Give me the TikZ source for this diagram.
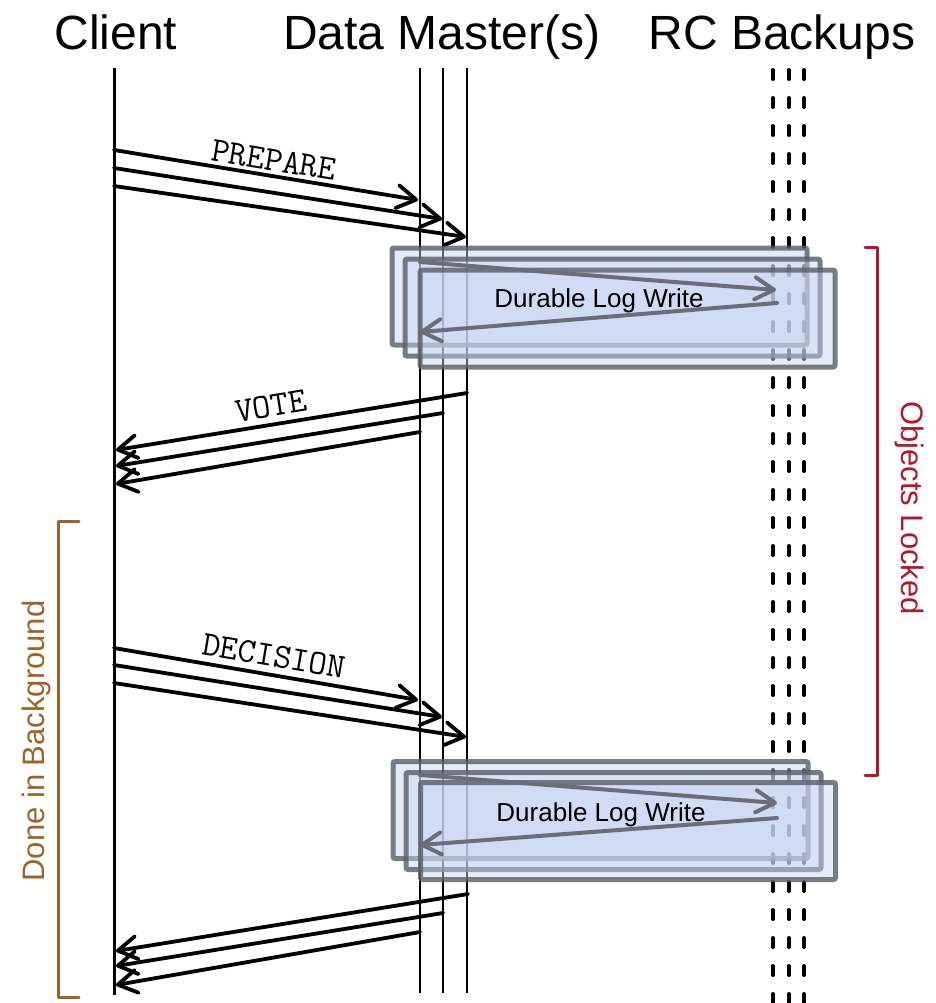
\documentclass[tikz,border=0pt]{standalone}
\usepackage{fontspec}
\setmainfont{Liberation Sans}
\usetikzlibrary{arrows.meta}

\definecolor{logfill}{RGB}{198,213,241}
\definecolor{logedge}{RGB}{88,93,103}
\definecolor{logarrow}{RGB}{105,110,120}
\definecolor{lockred}{RGB}{178,22,42}
\definecolor{bgbrown}{RGB}{155,100,40}

\begin{document}
\begin{tikzpicture}[x=1pt,y=-1pt,
  header/.style={font=\fontsize{48}{50}\selectfont, anchor=base, inner sep=0pt},
  clientline/.style={line width=3pt},
  masterline/.style={line width=2pt},
  backupline/.style={line width=4pt, line cap=round, dash pattern=on 9pt off 19pt},
  msg/.style={line width=3.8pt, line cap=round,
    -{Straight Barb[length=19pt,width=23pt,round]}},
  msglabel/.style={font=\ttfamily\fontsize{35}{37}\selectfont, inner sep=0pt},
  logbox/.style={draw=logedge, draw opacity=0.8, line width=5pt, fill=logfill,
    fill opacity=0.45, rounded corners=2pt, minimum width=415pt,
    minimum height=97pt, inner sep=0pt},
  logmsg/.style={draw=logarrow, line width=4pt, line cap=round,
    -{Straight Barb[length=19pt,width=22pt,round]}},
  logtext/.style={font=\fontsize{26}{28}\selectfont, anchor=base, inner sep=0pt},
  bracket/.style={line width=3pt, line cap=round, line join=round},
  sidetext/.style={font=\fontsize{31}{33}\selectfont, anchor=base, inner sep=0pt}
]
\useasboundingbox (0,0) rectangle (935,1003);

% ---------- column headers ----------
\node[header] (hClient) at (116,50) {Client};
\node[header] (hMaster) at (442,50) {Data Master(s)};
\node[header] (hBackup) at (782,50) {RC Backups};

% ---------- lifelines ----------
\coordinate (c-top) at (114,68);   \coordinate (c-bot) at (114,995);
\coordinate (m1-top) at (420,68);  \coordinate (m1-bot) at (420,993);
\coordinate (m2-top) at (443,68);  \coordinate (m2-bot) at (443,993);
\coordinate (m3-top) at (467,68);  \coordinate (m3-bot) at (467,993);
\coordinate (b1-top) at (773,70);  \coordinate (b1-bot) at (773,1010);
\coordinate (b2-top) at (789,70);  \coordinate (b2-bot) at (789,1010);
\coordinate (b3-top) at (804,70);  \coordinate (b3-bot) at (804,1010);

\draw[clientline] (c-top) -- (c-bot);
\draw[masterline] (m1-top) -- (m1-bot);
\draw[masterline] (m2-top) -- (m2-bot);
\draw[masterline] (m3-top) -- (m3-bot);
\draw[backupline] (b1-top) -- (b1-bot);
\draw[backupline] (b2-top) -- (b2-bot);
\draw[backupline] (b3-top) -- (b3-bot);

% ---------- PREPARE ----------
\coordinate (pr1-s) at (114,150); \coordinate (pr1-e) at (418,200);
\coordinate (pr2-s) at (114,168); \coordinate (pr2-e) at (442,219);
\coordinate (pr3-s) at (114,186); \coordinate (pr3-e) at (466,237);
\draw[msg] (pr1-s) -- (pr1-e);
\draw[msg] (pr2-s) -- (pr2-e);
\draw[msg] (pr3-s) -- (pr3-e);
\node[msglabel, rotate=-9.3] (lPrepare) at (274,160) {PREPARE};

% ---------- first durable log write ----------
\node[logbox] (logA1) at (599.5,296.5) {};
\node[logbox] (logB1) at (612.5,307.5) {};
\node[logbox] (logC1) at (627.5,318.5) {};
\coordinate (lw1-s) at (420,262); \coordinate (lw1-e) at (776,290);
\coordinate (lr1-s) at (777,303); \coordinate (lr1-e) at (420,332);
\draw[logmsg] (lw1-s) -- (lw1-e);
\draw[logmsg] (lr1-s) -- (lr1-e);
\node[logtext] (tLog1) at (599,307) {Durable Log Write};

% ---------- VOTE ----------
\coordinate (vo1-s) at (467,393); \coordinate (vo1-e) at (116,450);
\coordinate (vo2-s) at (443,413); \coordinate (vo2-e) at (116,466);
\coordinate (vo3-s) at (420,432); \coordinate (vo3-e) at (116,484);
\draw[msg] (vo1-s) -- (vo1-e);
\draw[msg] (vo2-s) -- (vo2-e);
\draw[msg] (vo3-s) -- (vo3-e);
\node[msglabel, rotate=9.3] (lVote) at (271,406) {VOTE};

% ---------- DECISION ----------
\coordinate (de1-s) at (114,648); \coordinate (de1-e) at (418,700);
\coordinate (de2-s) at (114,665); \coordinate (de2-e) at (442,717);
\coordinate (de3-s) at (114,683); \coordinate (de3-e) at (466,737);
\draw[msg] (de1-s) -- (de1-e);
\draw[msg] (de2-s) -- (de2-e);
\draw[msg] (de3-s) -- (de3-e);
\node[msglabel, rotate=-9.6] (lDecision) at (274,656) {DECISION};

% ---------- second durable log write ----------
\node[logbox] (logA2) at (600.5,810) {};
\node[logbox] (logB2) at (613.5,821) {};
\node[logbox] (logC2) at (628,831) {};
\coordinate (lw2-s) at (420,775); \coordinate (lw2-e) at (777,803);
\coordinate (lr2-s) at (777,818); \coordinate (lr2-e) at (420,845);
\draw[logmsg] (lw2-s) -- (lw2-e);
\draw[logmsg] (lr2-s) -- (lr2-e);
\node[logtext] (tLog2) at (601,821) {Durable Log Write};

% ---------- final acknowledgements ----------
\coordinate (ac1-s) at (468,894); \coordinate (ac1-e) at (116,951);
\coordinate (ac2-s) at (443,913); \coordinate (ac2-e) at (116,966);
\coordinate (ac3-s) at (420,932); \coordinate (ac3-e) at (116,985);
\draw[msg] (ac1-s) -- (ac1-e);
\draw[msg] (ac2-s) -- (ac2-e);
\draw[msg] (ac3-s) -- (ac3-e);

% ---------- brackets ----------
\coordinate (lk-a) at (865,247); \coordinate (lk-b) at (877,247);
\coordinate (lk-c) at (877,775); \coordinate (lk-d) at (865,775);
\draw[bracket, lockred] (lk-a) -- (lk-b) -- (lk-c) -- (lk-d);
\node[sidetext, text=lockred, rotate=-90] (tLocked) at (901,508) {Objects Locked};

\coordinate (bg-a) at (79,521); \coordinate (bg-b) at (58,521);
\coordinate (bg-c) at (58,997); \coordinate (bg-d) at (79,997);
\draw[bracket, bgbrown] (bg-a) -- (bg-b) -- (bg-c) -- (bg-d);
\node[sidetext, text=bgbrown, rotate=90] (tBackground) at (44,741) {Done in Background};
\end{tikzpicture}
\end{document}
